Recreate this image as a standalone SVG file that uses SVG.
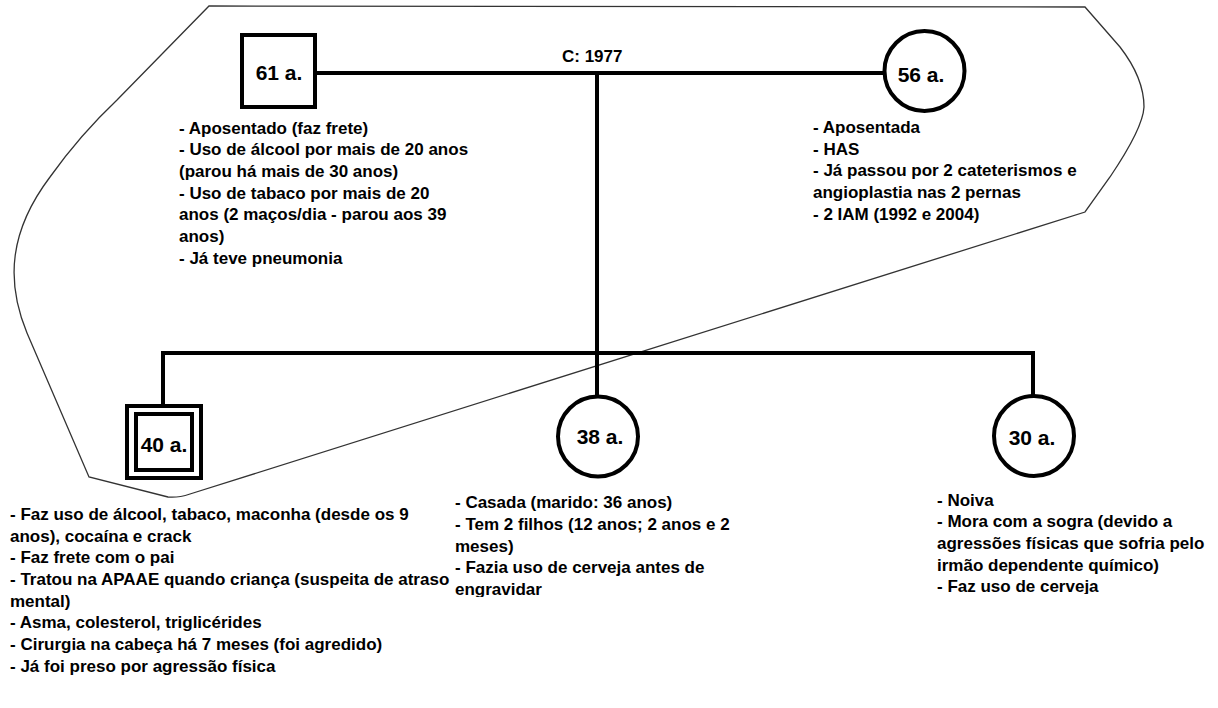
<svg xmlns="http://www.w3.org/2000/svg" width="1218" height="708" viewBox="0 0 1218 708">
<style>
.bd{fill:none;stroke:#333;stroke-width:1.3}
.ln{fill:none;stroke:#000;stroke-width:4}
.nd{fill:#fff;stroke:#000;stroke-width:4}
.lb{font-family:"Liberation Sans",Arial,sans-serif;font-weight:bold;font-size:21px;fill:#000;text-anchor:middle}
.tx{font-family:"Liberation Sans",Arial,sans-serif;font-weight:bold;font-size:17px;fill:#000}
</style>
<defs>
<clipPath id="c38"><rect x="440" y="480" width="330" height="117"/></clipPath>
<clipPath id="c30"><rect x="920" y="480" width="298" height="114"/></clipPath>
</defs>
<rect width="1218" height="708" fill="#fff"/>
<path id="household" class="bd" d="M209,6 L1085,7 L1120,47 Q1144,78 1144,107 Q1143,128 1110,177 L1085,212 L190,494 Q178,498 168,497 L89,477 L27,333 C5,280 10,230 50,177 Q80,135 117,100 L209,6 Z"/>
<g id="connectors">
<line class="ln" x1="317" y1="73" x2="884" y2="73"/>
<line class="ln" x1="597" y1="73" x2="597" y2="396"/>
<polyline class="ln" points="163,405 163,353 1033,353 1033,396"/>
<text class="tx" x="562" y="62">C: 1977</text>
</g>
<g id="father">
<rect class="nd" x="242" y="35" width="73" height="72"/>
<text class="lb" x="279" y="80">61 a.</text>
<text class="tx" x="179"><tspan x="179" y="133.5">- Aposentado (faz frete)</tspan><tspan x="179" y="155.2">- Uso de álcool por mais de 20 anos</tspan><tspan x="179" y="176.8">(parou há mais de 30 anos)</tspan><tspan x="179" y="198.5">- Uso de tabaco por mais de 20</tspan><tspan x="179" y="220.2">anos (2 maços/dia - parou aos 39</tspan><tspan x="179" y="241.8">anos)</tspan><tspan x="179" y="263.5">- Já teve pneumonia</tspan></text>
</g>
<g id="mother">
<circle class="nd" cx="924.5" cy="71" r="40"/>
<text class="lb" x="921" y="82">56 a.</text>
<text class="tx" x="813"><tspan x="813" y="133">- Aposentada</tspan><tspan x="813" y="154.7">- HAS</tspan><tspan x="813" y="176.3">- Já passou por 2 cateterismos e</tspan><tspan x="813" y="198">angioplastia nas 2 pernas</tspan><tspan x="813" y="219.7">- 2 IAM (1992 e 2004)</tspan></text>
</g>
<g id="son40">
<rect class="nd" x="127" y="406" width="74" height="72"/>
<rect class="nd" x="136" y="414" width="56" height="56"/>
<text class="lb" x="164" y="452">40 a.</text>
<text class="tx" x="10"><tspan x="10" y="520">- Faz uso de álcool, tabaco, maconha (desde os 9</tspan><tspan x="10" y="541.7">anos), cocaína e crack</tspan><tspan x="10" y="563.3">- Faz frete com o pai</tspan><tspan x="10" y="585">- Tratou na APAAE quando criança (suspeita de atraso</tspan><tspan x="10" y="606.7">mental)</tspan><tspan x="10" y="628.3">- Asma, colesterol, triglicérides</tspan><tspan x="10" y="650">- Cirurgia na cabeça há 7 meses (foi agredido)</tspan><tspan x="10" y="671.7">- Já foi preso por agressão física</tspan></text>
</g>
<g id="daughter38">
<circle class="nd" cx="598" cy="436.5" r="40"/>
<text class="lb" x="600" y="444">38 a.</text>
<text class="tx" x="455" clip-path="url(#c38)"><tspan x="455" y="508.3">- Casada (marido: 36 anos)</tspan><tspan x="455" y="530">- Tem 2 filhos (12 anos; 2 anos e 2</tspan><tspan x="455" y="551.7">meses)</tspan><tspan x="455" y="573.3">- Fazia uso de cerveja antes de</tspan><tspan x="455" y="595">engravidar</tspan></text>
</g>
<g id="daughter30">
<circle class="nd" cx="1034" cy="436" r="40"/>
<text class="lb" x="1032" y="445">30 a.</text>
<text class="tx" x="937" clip-path="url(#c30)"><tspan x="937" y="505.7">- Noiva</tspan><tspan x="937" y="527.3">- Mora com a sogra (devido a</tspan><tspan x="937" y="549">agressões físicas que sofria pelo</tspan><tspan x="937" y="570.7">irmão dependente químico)</tspan><tspan x="937" y="592.3">- Faz uso de cerveja</tspan></text>
</g>
</svg>
